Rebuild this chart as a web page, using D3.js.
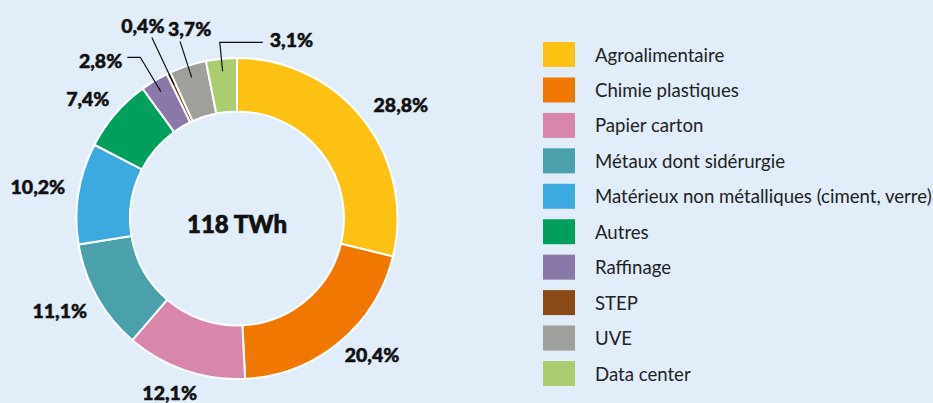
<!DOCTYPE html>
<html lang="fr">
<head>
<meta charset="utf-8">
<script src="https://cdn.jsdelivr.net/npm/d3@7"></script>
<style>
  html, body { margin: 0; padding: 0; background: #E1EDF8; }
  svg { display: block; }
  .pct { font-family: Lato, "Open Sans", sans-serif; font-weight: 900; font-size: 19.5px; fill: #111; stroke: #111; stroke-width: 0.5px; }
  .total { font-family: Lato, "Open Sans", sans-serif; font-weight: 900; font-size: 24px; fill: #111; stroke: #111; stroke-width: 0.7px; }
  .leg { font-family: Lato, "Open Sans", sans-serif; font-weight: 400; font-size: 18.6px; fill: #222; }
</style>
</head>
<body>
<svg id="chart" width="933" height="403"></svg>
<script>
// Consommation d'énergie de l'industrie par secteur (part en %)
const categories = [
  "Agroalimentaire", "Chimie plastiques", "Papier carton", "Métaux dont sidérurgie",
  "Matérieux non métalliques (ciment, verre)", "Autres", "Raffinage", "STEP", "UVE", "Data center"
];
const shares = [28.8, 20.4, 12.1, 11.1, 10.2, 7.4, 2.8, 0.4, 3.7, 3.1];
const colors = [
  "#FDC114", "#F07801", "#D886AC", "#4AA1AB", "#3DAADF",
  "#00A05C", "#8A78A9", "#8A4A18", "#9F9F9C", "#A9CD6F"
];
const totalLabel = "118 TWh";

// label placement: which slices use a leader line, plus small nudges
const labelNudge = [[-5, -3], [-7, -3], [-9, 4], [7, 4], [6, -4], [9, -3], null, null, null, null];
const leaders = { 6: { elbowR: 188, tail: -13 }, 7: { elbowR: 200, tail: 0 }, 8: { elbowR: 186, tail: 0 }, 9: { elbowR: 177, tail: 43 } };

const fmt = v => d3.format(".1f")(v).replace(".", ",") + "%";

const svg = d3.select("#chart");
const cx = 237, cy = 218.5;
const rOuter = 160.5, rInner = 107;

const pie = d3.pie().sort(null).value(d => d.v);
const data = categories.map((c, i) => ({ c, v: shares[i], color: colors[i], i }));
const arcs = pie(data);
const arc = d3.arc().innerRadius(rInner).outerRadius(rOuter);

const g = svg.append("g").attr("transform", `translate(${cx},${cy})`);

g.selectAll("path.slice")
  .data(arcs)
  .join("path")
  .attr("class", "slice")
  .attr("d", arc)
  .attr("fill", d => d.data.color)
  .attr("stroke", "#fff")
  .attr("stroke-width", 2)
  .attr("stroke-linejoin", "round");

const mid = d => (d.startAngle + d.endAngle) / 2;
const polar = (a, r) => [Math.sin(a) * r, -Math.cos(a) * r];

// labels
arcs.forEach(d => {
  const i = d.data.i;
  const a = mid(d);
  const txt = fmt(d.data.v);
  if (leaders[i]) {
    const L = leaders[i];
    const p0 = polar(a, 148);
    const p1 = polar(a, L.elbowR);
    const pts = [p0, p1];
    if (L.tail) pts.push([p1[0] + L.tail, p1[1]]);
    g.append("path")
      .attr("d", d3.line()(pts))
      .attr("fill", "none")
      .attr("stroke", "#111")
      .attr("stroke-width", 1.2);
    const end = pts[pts.length - 1];
    let x, y, anchor;
    if (L.tail < 0) { x = end[0] - 5; y = end[1] + 3; anchor = "end"; }
    else if (L.tail > 0) { x = end[0] + 7; y = end[1] - 3; anchor = "start"; }
    else { x = end[0] + (i === 7 ? -9 : 9.5); y = end[1] - 12.5; anchor = "middle"; }
    g.append("text").attr("class", "pct")
      .attr("x", x).attr("y", y)
      .attr("text-anchor", anchor)
      .attr("dominant-baseline", "central")
      .text(txt);
  } else {
    const p = polar(a, 180);
    const s = Math.sin(a);
    const anchor = Math.abs(s) < 0.4 ? "middle" : (s > 0 ? "start" : "end");
    const n = labelNudge[i];
    g.append("text").attr("class", "pct")
      .attr("x", p[0] + n[0]).attr("y", p[1] + n[1])
      .attr("text-anchor", anchor)
      .attr("dominant-baseline", "central")
      .text(txt);
  }
});

g.append("text").attr("class", "total")
  .attr("x", 0).attr("y", 4.5)
  .attr("text-anchor", "middle")
  .attr("dominant-baseline", "central")
  .text(totalLabel);

// legend
const legY = d3.scalePoint().domain(categories).range([54.5, 373.5]);
const leg = svg.append("g").selectAll("g").data(data).join("g")
  .attr("transform", d => `translate(543,${legY(d.c)})`);
leg.append("rect")
  .attr("x", 0).attr("y", -12.5)
  .attr("width", 32).attr("height", 25)
  .attr("fill", d => d.color);
leg.append("text").attr("class", "leg")
  .attr("x", 52).attr("y", 0)
  .attr("dominant-baseline", "central")
  .text(d => d.c);
</script>
</body>
</html>
